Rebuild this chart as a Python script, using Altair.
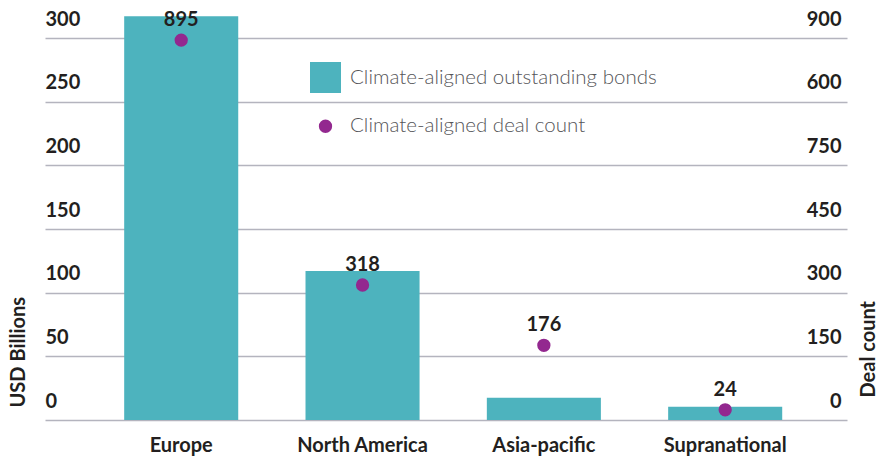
import altair as alt
import pandas as pd

regions = ["Europe", "North America", "Asia-pacific", "Supranational"]
bonds_usd_bn = [317, 117, 17.5, 10.4]
deal_count = [895, 318, 176, 24]
series_names = ["Climate-aligned outstanding bonds", "Climate-aligned deal count"]
left_ticks = [0, 50, 100, 150, 200, 250, 300]
right_ticks = [0, 150, 300, 450, 600, 750, 900]

TEAL = "#4db3be"
PURPLE = "#93288f"
DARK = "#231f20"
FONT = "Lato"

df = pd.DataFrame({
    "region": regions,
    "bonds": bonds_usd_bn,
    "deals": deal_count,
    "series": [series_names[1]] * len(regions),
})

x_enc = alt.X(
    "region:N",
    sort=regions,
    title=None,
    scale=alt.Scale(paddingInner=0.371, paddingOuter=0.397, align=0.55),
    axis=alt.Axis(
        domain=False, ticks=False, grid=False, labelAngle=0,
        labelFont=FONT, labelFontSize=20, labelFontWeight="bold",
        labelColor=DARK, labelBaseline="alphabetic", labelPadding=31,
    ),
)

bars = alt.Chart(df).mark_bar(color=TEAL).encode(
    x=x_enc,
    y=alt.Y(
        "bonds:Q",
        title="USD Billions",
        scale=alt.Scale(domain=[0, 300], nice=False, zero=True),
        axis=alt.Axis(
            orient="left", values=left_ticks, domain=False, ticks=False, tickSize=0,
            grid=True, gridColor="#b4b4be", gridWidth=1.3,
            labelAlign="left", labelPadding=0, labelBaseline="alphabetic",
            labelOffset=-13, labelFlush=False, labelOverlap=False,
            labelFont=FONT, labelFontSize=20, labelFontWeight="bold", labelColor=DARK,
            titleFont=FONT, titleFontSize=20, titleFontWeight="bold", titleColor=DARK,
            titleAngle=270, titleAlign="left", titleBaseline="middle",
            titleX=-26.5, titleY=369,
        ),
    ),
)

y_right = alt.Y(
    "deals:Q",
    title="Deal count",
    scale=alt.Scale(domain=[0, 900], nice=False, zero=True),
    axis=alt.Axis(
        orient="right", values=right_ticks, domain=False, ticks=False, tickSize=0,
        grid=False,
        labelExpr="datum.value == 600 ? '750' : datum.value == 750 ? '600' : datum.label",
        labelAlign="right", labelPadding=-6, labelBaseline="alphabetic",
        labelOffset=-13, labelFlush=False, labelOverlap=False,
        labelFont=FONT, labelFontSize=20, labelFontWeight="bold", labelColor=DARK,
        titleFont=FONT, titleFontSize=20, titleFontWeight="bold", titleColor=DARK,
        titleAngle=270, titleAlign="left", titleBaseline="middle",
        titleX=21.5, titleY=359,
    ),
)

legend_cfg = dict(
    title=None, orient="none", legendX=265, legendY=24, padding=0,
    labelFont=FONT, labelFontSize=20.5, labelFontWeight=300, labelColor="#555558",
    labelOffset=9, rowPadding=23, symbolStrokeWidth=0, symbolOpacity=1,
    labelLimit=400,
)

points = alt.Chart(df).mark_point(filled=True, opacity=1, strokeWidth=0).encode(
    x=x_enc,
    y=y_right,
    color=alt.Color(
        "series:N",
        scale=alt.Scale(domain=series_names, range=[TEAL, PURPLE]),
        legend=alt.Legend(**legend_cfg),
    ),
    shape=alt.Shape(
        "series:N",
        scale=alt.Scale(domain=series_names, range=["square", "circle"]),
        legend=alt.Legend(**legend_cfg),
    ),
    size=alt.Size(
        "series:N",
        scale=alt.Scale(domain=series_names, range=[961, 177]),
        legend=alt.Legend(**legend_cfg),
    ),
)

labels = alt.Chart(df).mark_text(
    font=FONT, fontSize=20, fontWeight="bold", color=DARK,
    baseline="alphabetic", align="center", dy=-14,
).encode(
    x=x_enc,
    y=y_right,
    text=alt.Text("deals:Q"),
)

chart = alt.layer(bars, alt.layer(points, labels)).resolve_scale(
    y="independent"
).properties(
    width=802,
    height=382,
    autosize=alt.AutoSizeParams(type="none"),
    padding={"left": 37, "top": 30, "right": 30, "bottom": 37},
    background="white",
).configure_view(strokeWidth=0)

chart.save("out.html", embed_options={"renderer": "svg", "actions": False})
